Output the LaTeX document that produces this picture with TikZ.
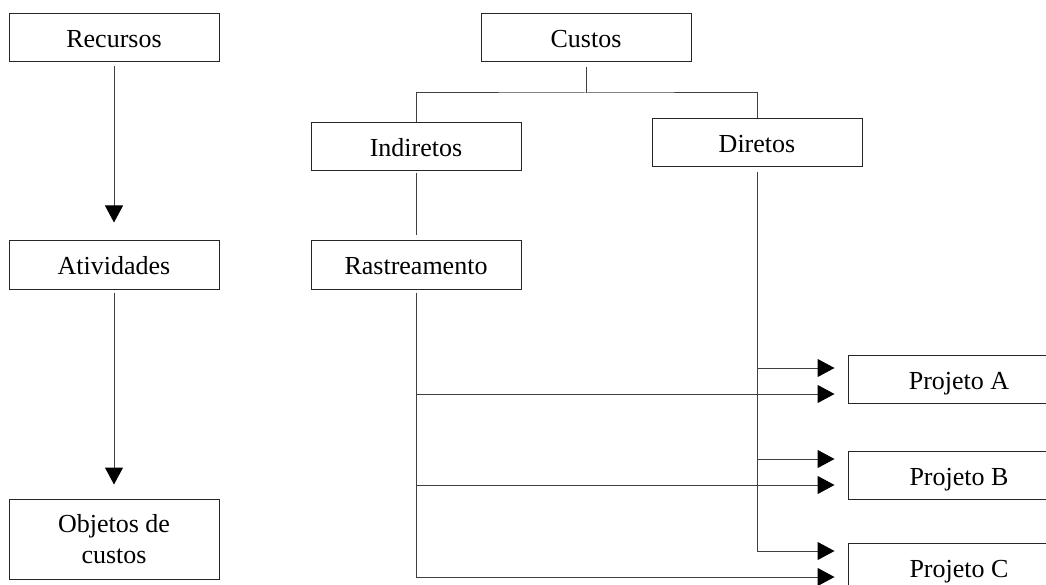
\documentclass[tikz,border=0pt]{standalone}
\usepackage{fontspec}
\setmainfont{Liberation Serif}
\usetikzlibrary{arrows.meta}
\begin{document}
\begin{tikzpicture}[x=1pt,y=-1pt,
  basebox/.style={draw=black!85, line width=1pt, minimum width=210pt, minimum height=48pt,
    inner sep=0pt, align=center, font=\fontsize{26}{31}\selectfont},
  box/.style={basebox, text height=20pt, text depth=0pt},
  ln/.style={line width=1pt, draw=black!75},
  arr/.style={ln, -{Triangle[length=17pt,width=18pt,color=black]}}]
\useasboundingbox (0,0) rectangle (1046,585);
\clip (0,0) rectangle (1046,585);
% nodes
\node[box] (rec) at (114,38) {Recursos};
\node[box] (ati) at (114,265) {Atividades};
\node[basebox, minimum height=80pt] (obj) at (114,539) {Objetos de\\custos};
\node[box] (cus) at (586,38) {Custos};
\node[box] (ind) at (416,147) {Indiretos};
\node[box] (dir) at (757,143) {Diretos};
\node[box] (ras) at (416,265) {Rastreamento};
\node[box, minimum width=222pt] (pa) at (959,379) {Projeto A};
\node[box, minimum width=222pt] (pb) at (959,475) {Projeto B};
\node[box, minimum width=222pt] (pc) at (959,567) {Projeto C};
% levels
\coordinate (cj) at (586,93);
\coordinate (ya1) at (0,368);
\coordinate (ya2) at (0,394);
\coordinate (yb1) at (0,459);
\coordinate (yb2) at (0,485);
\coordinate (yc1) at (0,551);
\coordinate (yc2) at (0,577);
% left chain
\draw[arr, shorten <=4pt, shorten >=18pt] (rec) -- (ati);
\draw[arr, shorten <=3pt, shorten >=14pt] (ati) -- (obj);
% tree
\draw[ln] ([yshift=-5pt]cus.south) -- (cj);
\draw[ln] (ind.north) |- (cj) -| (dir.north);
\draw[ln] ([yshift=-2pt]ind.south) -- ([yshift=5pt]ras.north);
% direct trunk
\draw[arr, shorten >=13pt] ([yshift=-5pt]dir.south) |- (pc.west |- yc1);
\draw[arr, shorten >=13pt] (dir.south |- ya1) -- (pa.west |- ya1);
\draw[arr, shorten >=13pt] (dir.south |- yb1) -- (pb.west |- yb1);
% tracing trunk
\draw[arr, shorten >=13pt] ([yshift=-3pt]ras.south) |- (pc.west |- yc2);
\draw[arr, shorten >=13pt] (ras.south |- ya2) -- (pa.west |- ya2);
\draw[arr, shorten >=13pt] (ras.south |- yb2) -- (pb.west |- yb2);
\end{tikzpicture}
\end{document}
